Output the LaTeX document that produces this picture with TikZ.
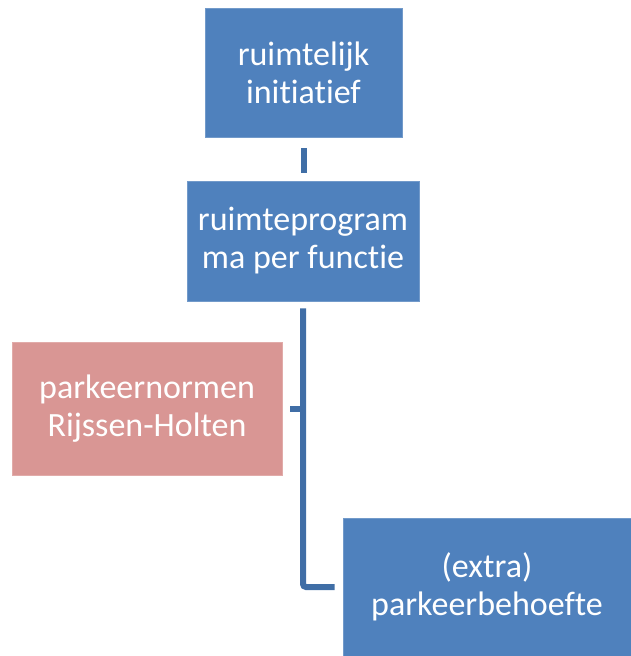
\documentclass[tikz,border=0pt]{standalone}
\usepackage{fontspec}
\setmainfont{Carlito}[RawFeature=-liga]
\usetikzlibrary{positioning}

\definecolor{boxblue}{RGB}{79,129,189}
\definecolor{boxpink}{RGB}{217,150,148}
\definecolor{linkblue}{RGB}{64,110,166}

\tikzset{
  stepbox/.style={fill=boxblue, draw=boxblue!80!white, line width=0.6pt, text=white,
    align=center, font=\fontsize{34}{38}\selectfont, inner sep=0pt},
  normbox/.style={stepbox, fill=boxpink, draw=boxpink!80!white},
  link/.style={linkblue, line width=6pt}
}

\begin{document}
\begin{tikzpicture}
  \useasboundingbox (0pt,0pt) rectangle (631pt,-656pt);
  \clip (0pt,0pt) rectangle (631pt,-656pt);

  % boxes
  \node[stepbox, minimum width=197pt, minimum height=129pt] (init) at (303.5pt,-72.5pt) {ruimtelijk\\initiatief};
  \node[stepbox, minimum width=232pt, minimum height=120pt] (prog) at (303pt,-241pt) {ruimteprogram\\ma per functie};
  \node[normbox, minimum width=270pt, minimum height=133pt] (norm) at (147pt,-408.5pt) {parkeernormen\\Rijssen-Holten};
  \node[stepbox, minimum width=288pt, minimum height=138pt] (need) at (487pt,-587pt) {(extra)\\parkeerbehoefte};

  % connectors
  \draw[link, shorten <=11pt, shorten >=8pt] (init.south) -- (init.south |- prog.north);
  \draw[link, rounded corners=3pt] ([yshift=-7pt]prog.south) |- ([xshift=-8pt]need.west);
  \draw[link] ([xshift=8pt]norm.east) -- (prog.south |- norm.east);
\end{tikzpicture}
\end{document}
